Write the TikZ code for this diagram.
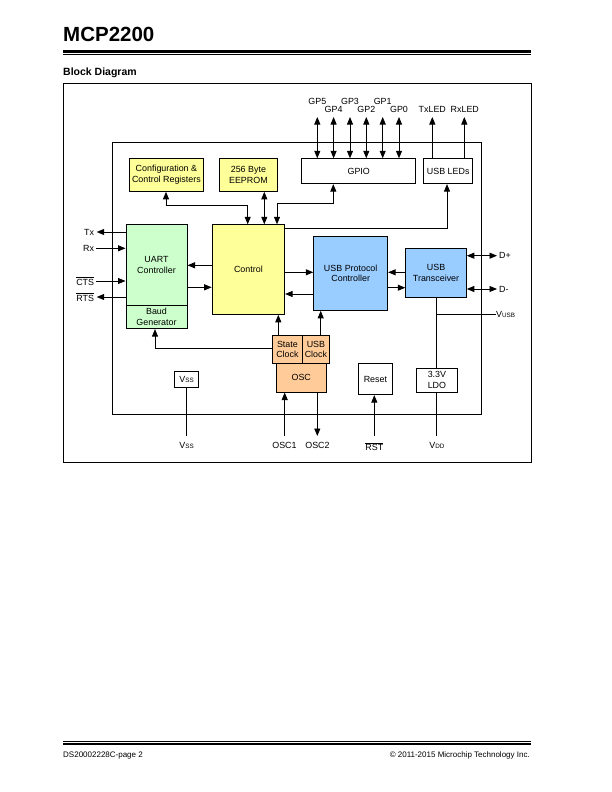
\documentclass[tikz,border=0pt]{standalone}
\usepackage{fontspec}
\setmainfont{Liberation Sans}
\usetikzlibrary{arrows.meta}
\definecolor{cyel}{HTML}{FFFF99}
\definecolor{cgrn}{HTML}{CCFFCC}
\definecolor{cblu}{HTML}{99CCFF}
\definecolor{corg}{HTML}{FFCC99}
\newcommand{\smc}[1]{{\fontsize{6.3}{6.3}\selectfont #1}}
\begin{document}
\begin{tikzpicture}[x=1pt,y=-1pt,
  blk/.style={draw, line width=0.8pt, anchor=north west, inner sep=0pt, align=center, font=\fontsize{8.9}{10.8}\selectfont},
  lbl/.style={inner sep=0pt, font=\fontsize{8.9}{10.8}\selectfont},
  wire/.style={line width=0.85pt},
  >={Triangle[length=7.5pt,width=6pt]}]
\useasboundingbox (0,0) rectangle (612,792);
% header
\node[anchor=base west, inner sep=0pt, font=\bfseries\fontsize{20.5}{24}\selectfont] (title) at (63,41.7) {MCP2200};
\draw[line width=2.7pt] (63,51.3) -- (531,51.3);
\draw[line width=0.7pt] (63,53.9) -- (531,53.9);
\node[anchor=base west, inner sep=0pt, font=\bfseries\fontsize{10.5}{12}\selectfont] (bd) at (63,75.5) {Block Diagram};
\draw[line width=0.8pt] (63,83.5) rectangle (531,462);
% inner frame
\draw[line width=0.8pt] (112.5,142.5) rectangle (481.7,414);
% blocks
\node[blk, fill=cyel, minimum width=73.4pt, minimum height=32.7pt] (cfg) at (129.3,158.3) {Configuration \&\\Control Registers};
\node[blk, fill=cyel, minimum width=57.4pt, minimum height=32.7pt] (eep) at (219.3,158.3) {256 Byte\\EEPROM};
\node[blk, fill=white, minimum width=114pt, minimum height=25pt] (gpio) at (301.3,158.3) {GPIO};
\node[blk, fill=white, minimum width=49pt, minimum height=25pt] (leds) at (423.3,158.3) {USB LEDs};
\node[blk, fill=cgrn, minimum width=61.2pt, minimum height=80.7pt] (uart) at (125.5,224.3) {UART\\Controller};
\node[blk, fill=cgrn, minimum width=61.2pt, minimum height=23.3pt] (baud) at (125.5,305) {Baud\\Generator};
\node[blk, fill=cyel, minimum width=72.6pt, minimum height=89.7pt] (ctrl) at (211.7,224.3) {Control};
\node[blk, fill=cblu, minimum width=74pt, minimum height=74pt] (usbp) at (313.3,236) {USB Protocol\\Controller};
\node[blk, fill=cblu, minimum width=60.7pt, minimum height=49pt] (xcvr) at (405.3,248.3) {USB\\Transceiver};
\node[blk, fill=corg, minimum width=29.4pt, minimum height=28.6pt] (stclk) at (272.3,334.7) {State\\Clock};
\node[blk, fill=corg, minimum width=27.6pt, minimum height=28.6pt] (usbclk) at (301.7,334.7) {USB\\Clock};
\node[blk, fill=corg, minimum width=49.7pt, minimum height=28.4pt] (osc) at (276,363.3) {OSC};
\node[blk, fill=white, minimum width=24.3pt, minimum height=16pt] (vssbox) at (174,371.3) {V\smc{SS}};
\node[blk, fill=white, minimum width=33.4pt, minimum height=31pt] (reset) at (358.3,363.3) {Reset};
\node[blk, fill=white, minimum width=41pt, minimum height=24pt] (ldo) at (416,367.7) {3.3V\\LDO};
% UART pins
\node[lbl, anchor=east] (tx) at (94.3,232) {Tx};
\node[lbl, anchor=east] (rx) at (94.3,248.3) {Rx};
\node[lbl, anchor=east] (cts) at (94.3,281) {$\overline{\mbox{CTS}}$};
\node[lbl, anchor=east] (rts) at (94.3,297) {$\overline{\mbox{RTS}}$};
\draw[wire,->] (uart.west |- tx) -- ([xshift=2.4pt]tx.east);
\draw[wire,->] ([xshift=2pt]rx.east) -- (uart.west |- rx);
\draw[wire,->] ([xshift=2pt]cts.east) -- (uart.west |- cts);
\draw[wire,->] (uart.west |- rts) -- ([xshift=2.4pt]rts.east);
% control <-> uart
\draw[wire,->] (ctrl.west |- 0,265.3) -- (uart.east |- 0,265.3);
\draw[wire,->] (uart.east |- 0,287.3) -- (ctrl.west |- 0,287.3);
% control <-> usb protocol
\draw[wire,->] (ctrl.east |- 0,272.3) -- (usbp.west |- 0,272.3);
\draw[wire,->] (usbp.west |- 0,294) -- (ctrl.east |- 0,294);
% usb protocol <-> transceiver
\draw[wire,->] (xcvr.west |- 0,272.3) -- (usbp.east |- 0,272.3);
\draw[wire,->] (usbp.east |- 0,287.7) -- (xcvr.west |- 0,287.7);
% D+ D-
\node[lbl, anchor=west] (dp) at (499,255.7) {D+};
\node[lbl, anchor=west] (dm) at (499,289) {D-};
\draw[wire,<->] (xcvr.east |- dp) -- ([xshift=-2pt]dp.west);
\draw[wire,<->] (xcvr.east |- dm) -- ([xshift=-2pt]dm.west);
% VUSB / LDO
\node[lbl, anchor=west] (vusb) at (496,314.3) {V\smc{USB}};
\draw[wire] (xcvr.south -| ldo.north) -- (ldo.north);
\draw[wire] (ldo.north |- vusb) -- (vusb.west);
\node[lbl] (vdd) at (ldo.south |- 0,445) {V\smc{DD}};
\draw[wire] (ldo.south) -- (ldo.south |- 0,436);
% VSS
\node[lbl] (vss) at (vssbox.south |- 0,445) {V\smc{SS}};
\draw[wire] (vssbox.south) -- (vssbox.south |- 0,436);
% OSC
\node[lbl] (osc1) at (284.5,445) {OSC1};
\node[lbl] (osc2) at (317.5,445) {OSC2};
\draw[wire,->] (284.7,436) -- (osc.south -| 284.7,0);
\draw[wire,->] (osc.south -| 317.3,0) -- (317.3,436);
% RST
\node[lbl] (rst) at (374.3,446.7) {$\overline{\mbox{RST}}$};
\draw[wire,->] (374.3,436) -- (reset.south -| 374.3,0);
% clocks
\draw[wire,->] (stclk.north -| 278.3,0) -- (ctrl.south -| 278.3,0);
\draw[wire,->] (usbclk.north -| 320.7,0) -- (usbp.south -| 320.7,0);
\draw[wire,->] (stclk.west |- 0,348.3) -| (baud.south -| 155,0);
% config, eeprom, gpio, leds to control
\draw[wire,<->] (cfg.south -| 166,0) -- (166,205.7) -- (247.7,205.7) -- (ctrl.north -| 247.7,0);
\draw[wire,<->] (eep.south -| 264.3,0) -- (ctrl.north -| 264.3,0);
\draw[wire,<->] (gpio.south -| 333.3,0) -- (333.3,203.3) -- (277,203.3) -- (ctrl.north -| 277,0);
\draw[wire,->] (ctrl.east |- 0,228.3) -- (447,228.3) -- (leds.south -| 447,0);
% GPIO pins
\foreach \x/\n/\yy in {317.3/GP5/101, 333.6/GP4/109, 350/GP3/101, 366.3/GP2/109, 382.7/GP1/101, 399/GP0/109} {
  \node[lbl] (p\n) at (\x,\yy) {\n};
  \draw[wire,<->] (\x,117) -- (gpio.north -| \x,0);
}
\node[lbl] (txled) at (432.3,109) {TxLED};
\node[lbl] (rxled) at (464.8,109) {RxLED};
\draw[wire,->] (leds.north -| 432.3,0) -- (432.3,117);
\draw[wire,->] (leds.north -| 464.3,0) -- (464.3,117);
% footer
\draw[line width=0.7pt] (63,741) -- (531,741);
\draw[line width=2.7pt] (63,744) -- (531,744);
\node[anchor=base west, inner sep=0pt, font=\fontsize{8}{9}\selectfont] (fl) at (63,757) {DS20002228C-page 2};
\node[anchor=base east, inner sep=0pt, font=\fontsize{8}{9}\selectfont] (fr) at (530,757) {© 2011-2015 Microchip Technology Inc.};
\end{tikzpicture}
\end{document}
